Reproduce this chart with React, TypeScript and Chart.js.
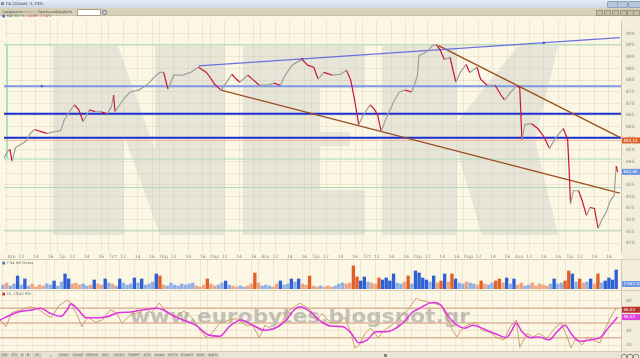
import React, { useEffect, useRef } from "react";
import { Chart, registerables } from "chart.js";

Chart.register(...registerables);

const FONT = "'DejaVu Sans', 'Liberation Sans', sans-serif";

// ---- time axis: 12 trading sessions, 7 hours each ----
const dayNames = ["Δευ", "Τρι", "Τετ", "Πεμ", "Παρ", "Δευ", "Τρι", "Τετ", "Πεμ", "Παρ", "Δευ", "Τρι"];
const hourOffsets = [2, 4, 6];
const hourNames = ["12", "14", "16"];
const SESSION = 7;
const X_MIN = -0.41;
const X_MAX = 84.66;

// ---- price panel ----
const priceAxisTicks = [900, 895, 890, 885, 880, 875, 870, 865, 860, 855, 850, 845, 840, 835, 830, 825, 820, 815, 810];
const PRICE_MIN = 806.2;
const PRICE_MAX = 905.8;

const priceTime = [
  -0.4, 0.0, 0.4, 0.7, 1.2, 2.1, 2.6, 3.2, 3.8, 4.7,
  5.5, 6.6, 7.4, 7.9, 8.6, 9.3, 9.9, 10.5, 11.4, 12.2,
  13.0, 13.8, 14.4, 14.7, 14.9, 15.8, 16.3, 17.0, 18.1, 18.9,
  19.7, 20.4, 21.1, 21.6, 22.2, 23.0, 24.2, 25.3, 26.4, 27.5,
  28.1, 28.6, 29.5, 30.3, 31.0, 31.5, 32.1, 33.2, 34.0, 34.8,
  35.9, 36.8, 37.7, 38.2, 38.8, 39.3, 39.9, 40.7, 41.5, 42.3,
  42.9, 43.7, 44.9, 46.0, 46.8, 47.4, 47.9, 48.5, 49.0, 49.6,
  50.1, 50.7, 51.1, 51.6, 52.1, 52.5, 53.3, 54.1, 54.9, 55.8,
  56.3, 56.6, 56.8, 57.7, 58.2, 58.6, 59.2, 59.7, 60.3, 61.1,
  61.5, 61.9, 62.5, 63.3, 63.8, 64.8, 65.3, 66.2, 67.3, 68.1,
  68.6, 69.5, 70.3, 70.7, 70.8, 71.0, 71.4, 72.3, 73.2, 74.0,
  74.8, 75.6, 76.7, 77.3, 77.5, 77.7, 78.1, 78.8, 79.3, 79.9,
  80.4, 81.0, 81.5, 82.1, 82.6, 83.2, 83.7, 84.0, 84.2,
];
const priceClose = [
  846.5, 849.0, 850.3, 845.2, 851.1, 852.8, 853.7, 857.1, 858.8, 857.9,
  857.1, 857.9, 858.3, 863.0, 866.4, 869.4, 867.2, 862.2, 867.2, 866.4,
  866.4, 865.5, 868.5, 873.6, 866.4, 870.6, 872.7, 874.9, 875.7, 877.0,
  879.1, 881.6, 883.3, 883.3, 876.1, 882.1, 882.1, 883.3, 885.5, 883.3,
  880.8, 878.3, 875.7, 879.1, 882.5, 880.8, 879.1, 882.1, 880.0, 877.8,
  877.8, 878.7, 877.8, 881.2, 884.2, 886.3, 887.6, 888.8, 886.3, 885.5,
  880.4, 883.3, 882.1, 882.5, 884.2, 880.0, 871.9, 860.9, 864.3, 867.2,
  869.4, 867.2, 865.1, 857.9, 862.2, 865.1, 870.6, 874.9, 875.7, 874.9,
  879.1, 882.1, 890.5, 891.8, 893.1, 894.8, 895.2, 893.1, 888.8, 889.7,
  884.2, 879.1, 883.3, 886.7, 883.3, 885.5, 880.4, 877.8, 877.8, 873.6,
  871.5, 874.9, 877.8, 876.6, 869.4, 854.5, 860.9, 861.3, 859.2, 855.8,
  850.7, 855.0, 859.2, 854.5, 842.2, 827.0, 832.5, 832.5, 828.3, 821.9,
  825.3, 824.9, 816.4, 820.6, 823.2, 828.3, 830.4, 843.1, 840.6,
];

const prevClose = 854.1;
const greenLevels = [895.2, 846.1, 833.9, 815.5];
const lightBlueLevels = [877.4];
const darkBlueLevels = [865.5, 855.2];
const markerTime = [4.8, 3.7, 3.7, 40.7, 74.0];
const markerValue = [877.4, 865.5, 855.2, 889.1, 896.0];
const frameLeftValue = [895.2, 846.1];

const upperTrendTime = [26.4, 84.5];
const upperTrendValue = [886.1, 898.2];
const supportTrendTime = [29.5, 84.5];
const supportTrendValue = [875.7, 831.5];
const fallTrendTime = [59.5, 84.5];
const fallTrendValue = [894.8, 855.4];

// ---- volume panel (thousands of shares, one bar per half hour) ----
const volumeK = [
  400, 600, 300, 500, 1300, 400, 1000, 300, 500, 200,
  400, 300, 500, 400, 800, 300, 700, 1500, 1000, 500,
  600, 400, 500, 300, 400, 900, 500, 400, 1000, 600,
  500, 300, 1000, 600, 400, 500, 1100, 600, 1000, 400,
  500, 700, 1500, 1300, 400, 300, 600, 400, 300, 500,
  400, 500, 600, 300, 200, 400, 1000, 500, 300, 400,
  600, 800, 400, 300, 200, 300, 200, 300, 500, 1600,
  600, 300, 400, 300, 200, 500, 800, 400, 500, 1000,
  700, 1000, 500, 400, 1300, 300, 200, 300, 200, 300,
  200, 300, 500, 600, 500, 600, 2300, 1200, 800, 1200,
  700, 600, 500, 1100, 900, 1100, 800, 1500, 600, 500,
  700, 1300, 500, 1800, 1600, 1100, 900, 700, 1300, 600,
  800, 1500, 700, 1500, 1000, 600, 500, 700, 600, 500,
  400, 800, 500, 400, 600, 800, 1000, 600, 1100, 500,
  1000, 400, 600, 300, 400, 600, 300, 500, 400, 300,
  500, 1000, 500, 600, 800, 1800, 1500, 700, 1000, 600,
  700, 1000, 500, 1500, 600, 800, 1100, 900, 1900,
];
const VOLUME_STEP = 0.5;
const VOL_MAX = 2900;
const VOLUME_MARK = 500;

// ---- RSI panel ----
const rsiTime = [
  -0.4, 0.4, 1.2, 2.6, 3.6, 4.7, 5.8, 6.6, 7.7, 8.8,
  9.3, 10.3, 10.8, 11.6, 12.7, 13.6, 14.7, 15.5, 16.3, 17.5,
  18.6, 19.5, 20.3, 21.4, 22.5, 23.7, 24.8, 25.9, 27.0, 27.8,
  28.6, 29.7, 31.0, 32.1, 33.2, 34.2, 35.1, 35.9, 37.0, 38.2,
  38.8, 39.9, 40.7, 42.1, 42.9, 43.7, 44.9, 46.0, 46.8, 47.7,
  48.2, 48.8, 49.6, 50.4, 51.4, 52.2, 53.3, 54.4, 55.5, 56.6,
  57.1, 58.1, 58.9, 60.0, 60.8, 61.6, 62.2, 62.7, 63.6, 64.8,
  65.6, 66.7, 67.5, 68.6, 69.5, 70.3, 70.8, 71.8, 72.6, 73.4,
  74.5, 75.6, 76.4, 77.3, 77.8, 78.5, 79.3, 80.1, 81.2, 81.8,
  82.3, 83.2, 84.0, 84.2,
];
const rsiValue = [
  54, 45, 64, 68, 72, 70, 62, 57, 74, 81,
  77, 58, 45, 58, 51, 54, 68, 64, 50, 61,
  64, 70, 64, 77, 64, 59, 66, 57, 40, 31,
  36, 50, 54, 56, 47, 47, 30, 47, 41, 50,
  64, 72, 77, 68, 54, 63, 50, 50, 58, 36,
  16, 20, 36, 43, 30, 40, 47, 58, 68, 84,
  81, 79, 77, 74, 58, 40, 31, 40, 47, 51,
  40, 38, 31, 27, 45, 54, 17, 36, 31, 36,
  29, 43, 50, 31, 16, 29, 20, 31, 25, 23,
  38, 57, 70, 68,
];
const rsiAvgTime = [
  -0.4, 1.8, 4.1, 5.2, 6.3, 7.9, 8.8, 9.3, 10.3, 11.4,
  13.0, 14.1, 15.8, 17.5, 19.2, 21.1, 21.9, 23.7, 26.4, 28.1,
  29.7, 31.0, 32.6, 34.2, 35.9, 37.7, 38.8, 39.9, 40.7, 42.1,
  43.7, 44.9, 46.6, 47.7, 48.8, 49.9, 51.1, 52.2, 53.3, 54.9,
  56.0, 57.1, 58.4, 59.2, 60.0, 61.1, 62.2, 63.3, 64.4, 65.6,
  66.7, 67.8, 68.9, 69.7, 70.3, 71.1, 72.3, 73.4, 74.8, 75.9,
  77.0, 77.8, 79.0, 80.4, 81.8, 82.9, 84.2,
];
const rsiAvgValue = [
  54, 64, 68, 70, 64, 59, 68, 76, 68, 57,
  57, 58, 64, 65, 68, 70, 68, 58, 47, 34,
  32, 45, 54, 47, 40, 45, 54, 68, 72, 65,
  51, 46, 45, 36, 23, 27, 38, 38, 40, 51,
  64, 70, 77, 78, 74, 58, 47, 43, 47, 43,
  38, 34, 30, 40, 50, 38, 30, 31, 27, 38,
  47, 36, 25, 27, 30, 43, 58,
];
const rsiLevels = [70, 50, 30];
const rsiAxisTicks = [80, 60, 40, 20];
const RSI_MIN = 11.9;
const RSI_MAX = 93.5;

const SITE = "www.eurobytes.blogspot.gr";
const menuItems = ["Γραφήματα", "Αναλύσεις", "Οργάνωση", "Προβολή"];
const leftTabs = ["ΣΚΙ", "ΕΞΙ", "Η", "Β", "Μ"];
const stockTabs = ["ΕΧΑΕ", "ΕΥΔΑΠ", "ΜΠΕΛΑ", "ΜΙΓ", "ΟΠΑΠ", "ΤΕΝΕΡΓ", "ΟΤΕ", "ΑΛΦΑ", "ΜΥΤΙΛ", "ΕΛΛΑΚΤ", "ΜΟΗ", "ΦΦΓΚ"];

// ---- decoration (watermark shapes, page pixels) ----
const NEK_SHAPES = [
  [[53, 46], [118, 46], [155, 150], [155, 46], [225, 46], [225, 235], [160, 235], [124, 135], [124, 235], [53, 235]],
  [[243, 46], [365, 46], [365, 88], [320, 88], [320, 132], [350, 132], [350, 146], [320, 146], [320, 190], [365, 190], [365, 235], [243, 235]],
  [[382, 46], [457, 46], [457, 122], [518, 46], [558, 46], [535, 140], [558, 235], [482, 235], [457, 150], [457, 235], [382, 235]],
];

const RED = "#cc1236";
const GREY = "#9d9d9d";
const GRID = "rgba(190,178,135,0.22)";
const TICK_COLOR = "#8a8a8a";

const pts = (ts: number[], vs: number[]) => ts.map((t, i) => ({ x: t, y: vs[i] }));
const timeTicks = dayNames.flatMap((_, d) => [d * SESSION, ...hourOffsets.map((h) => d * SESSION + h)]);
const tickLabel = (v: number) => {
  const d = Math.floor((v + 0.001) / SESSION);
  const off = Math.round(v - d * SESSION);
  // day names start at their tick (left-aligned look): pad with em spaces
  if (off === 0) return "\u2003\u2003" + dayNames[d];
  return hourNames[hourOffsets.indexOf(off)] || "";
};
const fmt = (v: number) => v.toFixed(2).replace(".", ",");
const priceAt = (t: number) => {
  if (t <= priceTime[0]) return priceClose[0];
  for (let i = 1; i < priceTime.length; i++) {
    if (t <= priceTime[i]) {
      const f = (t - priceTime[i - 1]) / (priceTime[i] - priceTime[i - 1]);
      return priceClose[i - 1] + f * (priceClose[i] - priceClose[i - 1]);
    }
  }
  return priceClose[priceClose.length - 1];
};

const zeroPad = (s: any) => {
  s.paddingLeft = 0;
  s.paddingRight = 0;
  s.paddingTop = 0;
  s.paddingBottom = 0;
};

const hline = (v: number, color: string, width: number) => ({
  data: [{ x: X_MIN, y: v }, { x: X_MAX, y: v }],
  borderColor: color,
  borderWidth: width,
  pointRadius: 0,
  order: 5,
});

const xScaleBase = (showLabels: boolean) => ({
  type: "linear" as const,
  min: X_MIN,
  max: X_MAX,
  offset: false,
  afterBuildTicks: (s: any) => {
    s.ticks = timeTicks.map((v) => ({ value: v }));
  },
  afterFit: (s: any) => {
    s.height = showLabels ? 8 : 0;
    zeroPad(s);
  },
  ticks: {
    display: showLabels,
    autoSkip: false,
    maxRotation: 0,
    padding: 2,
    color: TICK_COLOR,
    font: { size: 4.5, family: FONT },
    callback: (v: any) => tickLabel(Number(v)),
  },
  grid: { color: GRID, drawTicks: false, offset: false },
  border: { display: false },
});

const yRight = (min: number, max: number, ticks: number[] | null) => ({
  position: "right",
  min,
  max,
  afterBuildTicks: (s: any) => {
    if (ticks) s.ticks = ticks.map((v) => ({ value: v }));
  },
  afterFit: (s: any) => {
    s.width = 19;
    zeroPad(s);
  },
  ticks: {
    display: !!ticks,
    autoSkip: false,
    padding: 5,
    color: TICK_COLOR,
    font: { size: 4.5, family: FONT },
    callback: (v: any) => String(v),
  },
  grid: { display: !!ticks, color: GRID, drawTicks: false },
  border: { display: true, color: "#cfc7ae" },
});

const boxPlugin = (id: string, boxes: () => { v: number; bg: string; text: string }[]) => ({
  id,
  afterDraw(chart: any) {
    const { ctx, chartArea, scales } = chart;
    ctx.save();
    for (const b of boxes()) {
      const y = scales.y.getPixelForValue(b.v);
      ctx.fillStyle = b.bg;
      ctx.fillRect(chartArea.right + 1, y - 3, 18, 6);
      ctx.fillStyle = "#ffffff";
      ctx.font = `4px ${FONT}`;
      ctx.textBaseline = "middle";
      ctx.textAlign = "left";
      ctx.fillText(b.text, chartArea.right + 2.5, y + 0.3);
    }
    ctx.restore();
  },
});

const baseOptions = (padTop: number, padBottom: number) => ({
  animation: false,
  responsive: false,
  maintainAspectRatio: false,
  layout: { padding: { top: padTop, left: 0, right: 0, bottom: padBottom } },
  plugins: { legend: { display: false }, tooltip: { enabled: false } },
});

export default function App() {
  const priceRef = useRef<HTMLCanvasElement>(null);
  const volRef = useRef<HTMLCanvasElement>(null);
  const rsiRef = useRef<HTMLCanvasElement>(null);

  useEffect(() => {
    const charts: Chart[] = [];

    const nekPlugin = {
      id: "nek",
      beforeDatasetsDraw(chart: any) {
        const ctx = chart.ctx;
        ctx.save();
        ctx.fillStyle = "rgba(196,196,192,0.36)";
        for (const poly of NEK_SHAPES) {
          ctx.beginPath();
          poly.forEach(([x, y], i) => (i ? ctx.lineTo(x, y - 16) : ctx.moveTo(x, y - 16)));
          ctx.closePath();
          ctx.fill();
        }
        ctx.restore();
      },
    };

    if (priceRef.current) {
      charts.push(
        new Chart(priceRef.current, {
          type: "line",
          data: {
            datasets: [
              {
                data: pts(priceTime, priceClose),
                borderColor: GREY,
                borderWidth: 1.2,
                pointRadius: 0,
                segment: {
                  borderColor: (c: any) => (c.p1.parsed.y < c.p0.parsed.y ? RED : GREY),
                },
                order: 0,
              } as any,
              {
                data: pts(markerTime, markerValue),
                showLine: false,
                pointRadius: 1.4,
                pointStyle: "rect",
                pointBackgroundColor: "#2a3fd0",
                pointBorderWidth: 0,
                order: 1,
              },
              {
                data: pts(upperTrendTime, upperTrendValue),
                borderColor: "#6b6fe0",
                borderWidth: 1.2,
                pointRadius: 0,
                order: 2,
              },
              {
                data: pts(supportTrendTime, supportTrendValue),
                borderColor: "#9c4e22",
                borderWidth: 1.4,
                pointRadius: 0,
                order: 2,
              },
              {
                data: pts(fallTrendTime, fallTrendValue),
                borderColor: "#9c4e22",
                borderWidth: 1.4,
                pointRadius: 0,
                order: 2,
              },
              ...darkBlueLevels.map((v) => hline(v, "#1b2fd2", 2)),
              ...lightBlueLevels.map((v) => hline(v, "#7d98e4", 2)),
              hline(prevClose, "#f0b79c", 1),
              ...greenLevels.map((v) => hline(v, "#a9dcb9", 1)),
              {
                data: frameLeftValue.map((v) => ({ x: 0, y: v })),
                borderColor: "#a9dcb9",
                borderWidth: 1,
                pointRadius: 0,
                order: 6,
              },
            ],
          },
          options: {
            ...baseOptions(1, 0),
            scales: {
              x: xScaleBase(true) as any,
              y: yRight(PRICE_MIN, PRICE_MAX, priceAxisTicks) as any,
            },
          },
          plugins: [
            nekPlugin,
            boxPlugin("priceBoxes", () => [
              { v: prevClose, bg: "#e0602c", text: fmt(prevClose) },
              { v: priceClose[priceClose.length - 1], bg: "#6c95e2", text: fmt(priceClose[priceClose.length - 1]) },
            ]),
          ],
        } as any)
      );
    }

    if (volRef.current) {
      const volColors = volumeK.map((v, i) => {
        const t = i * VOLUME_STEP;
        const up = priceAt(t + 0.25) >= priceAt(t - 0.25);
        const strong = v >= 800;
        if (up) return strong ? "#2f5fd4" : "#8eaee6";
        return strong ? "#e0602a" : "#eea383";
      });
      charts.push(
        new Chart(volRef.current, {
          type: "bar",
          data: {
            datasets: [
              {
                data: volumeK.map((v, i) => ({ x: i * VOLUME_STEP, y: v })),
                backgroundColor: volColors,
                barThickness: 2.7,
                borderWidth: 0,
              },
            ],
          },
          options: {
            ...baseOptions(0, 1),
            scales: {
              x: xScaleBase(false) as any,
              y: yRight(0, VOL_MAX, null) as any,
            },
          },
          plugins: [boxPlugin("volBox", () => [{ v: VOLUME_MARK, bg: "#6c95e2", text: "7.942.310" }])],
        } as any)
      );
    }

    if (rsiRef.current) {
      const siteMark = {
        id: "siteMark",
        beforeDatasetsDraw(chart: any) {
          const ctx = chart.ctx;
          ctx.save();
          ctx.font = `bold 20px ${FONT}`;
          const w = ctx.measureText(SITE).width;
          ctx.translate(130, 323 - 290);
          ctx.scale(340 / w, 1);
          ctx.textBaseline = "alphabetic";
          ctx.textAlign = "left";
          ctx.fillStyle = "rgba(140,140,140,0.5)";
          ctx.fillText(SITE, 0, 0);
          ctx.restore();
        },
      };
      charts.push(
        new Chart(rsiRef.current, {
          type: "line",
          data: {
            datasets: [
              {
                data: pts(rsiAvgTime, rsiAvgValue),
                borderColor: "#e032e0",
                borderWidth: 1.5,
                pointRadius: 0,
                tension: 0.4,
                cubicInterpolationMode: "monotone",
                order: 0,
              },
              {
                data: pts(rsiTime, rsiValue),
                borderColor: "#c99467",
                borderWidth: 0.9,
                pointRadius: 0,
                order: 1,
              },
              ...rsiLevels.map((v) => hline(v, "#ddb49c", 1.5)),
            ],
          },
          options: {
            ...baseOptions(1, 0),
            scales: {
              x: xScaleBase(false) as any,
              y: yRight(RSI_MIN, RSI_MAX, rsiAxisTicks) as any,
            },
          },
          plugins: [
            siteMark,
            boxPlugin("rsiBoxes", () => [
              { v: rsiValue[rsiValue.length - 1], bg: "#b8302c", text: fmt(rsiValue[rsiValue.length - 1]) },
              { v: rsiAvgValue[rsiAvgValue.length - 1], bg: "#e040e0", text: fmt(rsiAvgValue[rsiAvgValue.length - 1]) },
            ]),
          ],
        } as any)
      );
    }

    return () => charts.forEach((c) => c.destroy());
  }, []);

  const abs = (s: React.CSSProperties): React.CSSProperties => ({ position: "absolute", ...s });
  const tiny: React.CSSProperties = { fontSize: 3.6, lineHeight: "6px", whiteSpace: "nowrap" };
  const stockWidths = [15, 13, 15, 12, 15, 15, 11, 14, 13, 15, 12, 13];
  const leftWidths = [9, 9, 4, 6, 10];

  return (
    <div
      style={abs({ left: 0, top: 0, width: 640, height: 358, background: "#fbf7e4", overflow: "hidden", fontFamily: FONT, position: "fixed" })}
    >
      {/* title bar */}
      <div style={abs({ left: 0, top: 0, width: 640, height: 8, background: "linear-gradient(#e6edf5,#ccd8e6)" })}>
        <div style={abs({ left: 1, top: 2, width: 3, height: 3, background: "#7d8fa8" })} />
        <div style={abs({ left: 6, top: 1, ...tiny, fontSize: 4.2, color: "#2a3140" })}>ΓΔ [Close] -1,74%</div>
        {[607, 617, 628].map((x, i) => (
          <div
            key={x}
            style={abs({ left: x, top: 0.5, width: i === 2 ? 11 : 9, height: 5, borderRadius: 1, background: "#b5c6dd", border: "0.5px solid #8fa3c0" })}
          />
        ))}
      </div>
      {/* toolbar */}
      <div style={abs({ left: 0, top: 8, width: 640, height: 7, background: "#d8d1ba", borderBottom: "1px solid #c6bea5" })}>
        {menuItems.map((m, i) => (
          <div key={m} style={abs({ left: [2, 19, 38, 56][i], top: 0.5, ...tiny, color: i === 1 ? "#9a9482" : "#4a4a44" })}>
            {m}
          </div>
        ))}
        <div style={abs({ left: 77, top: 0.5, width: 22, height: 5, background: "#ffffff", border: "0.5px solid #a8a28e" })} />
        <div style={abs({ left: 102, top: 1.5, width: 3, height: 3, borderRadius: 2, border: "0.8px solid #6b82a8" })} />
        {[596, 604, 612, 620, 627, 633].map((x) => (
          <div key={x} style={abs({ left: x, top: 1.5, width: 5, height: 4, background: "#c3bca6", border: "0.5px solid #9c957f" })} />
        ))}
      </div>
      {/* right axis strip */}
      <div style={abs({ left: 622, top: 16, width: 18, height: 335, background: "#f3eedb" })} />
      {/* panel separators */}
      <div style={abs({ left: 0, top: 259, width: 640, height: 1, background: "#d6ceb5" })} />
      <div style={abs({ left: 0, top: 290, width: 640, height: 1, background: "#d6ceb5" })} />

      <canvas ref={priceRef} width={640} height={244} style={abs({ left: 0, top: 16, width: 640, height: 244 })} />
      <canvas ref={volRef} width={640} height={30} style={abs({ left: 0, top: 260, width: 640, height: 30 })} />
      <canvas ref={rsiRef} width={640} height={61} style={abs({ left: 0, top: 290, width: 640, height: 61 })} />

      {/* panel legends */}
      <div style={abs({ left: 2, top: 13, ...tiny, color: "#6b6b6b" })}>
        <span style={{ color: "#4f70c8" }}>■</span> 840,60 ΓΔ <span style={{ color: "#d2453a" }}>-14,88 -1,74%</span>
      </div>
      <div style={abs({ left: 2, top: 259.5, ...tiny, color: "#6b6b6b" })}>
        <span style={{ color: "#4f70c8" }}>■</span> 7,94 mil Όγκος
      </div>
      <div style={abs({ left: 2, top: 290.5, ...tiny, color: "#6b6b6b" })}>
        <span style={{ color: "#c0402c" }}>■</span> 55, 19/42 RSI
      </div>

      {/* bottom tab bar */}
      <div style={abs({ left: 0, top: 351, width: 640, height: 7, background: "#e9e4d3", borderTop: "1px solid #d3ccb6" })}>
        {leftTabs.map((t, i) => (
          <div
            key={t + i}
            style={abs({
              left: leftWidths.slice(0, i).reduce((a, b) => a + b + 1, 0),
              top: 1,
              width: leftWidths[i],
              height: 5,
              background: "#d7d2c3",
              ...tiny,
              lineHeight: "5px",
              color: "#666",
              textAlign: "center",
            })}
          >
            {t}
          </div>
        ))}
        <div style={abs({ left: 49, top: 1, width: 5, height: 5, ...tiny, lineHeight: "5px", color: "#777" })}>◬</div>
        {stockTabs.map((t, i) => (
          <div
            key={t}
            style={abs({
              left: 57 + stockWidths.slice(0, i).reduce((a, b) => a + b, 0),
              top: 1,
              width: stockWidths[i] - 1,
              height: 5,
              background: "#d7d2c3",
              ...tiny,
              fontSize: 3.2,
              lineHeight: "5px",
              color: "#666",
              textAlign: "center",
              overflow: "hidden",
            })}
          >
            {t}
          </div>
        ))}
        <div style={abs({ left: 384, top: 2, width: 3, height: 3, background: "#8d8778" })} />
        {[621, 627, 633].map((x) => (
          <div key={x} style={abs({ left: x, top: 1.5, width: 4, height: 4, borderRadius: 2, border: "0.5px solid #8f8a7c" })} />
        ))}
      </div>
    </div>
  );
}
